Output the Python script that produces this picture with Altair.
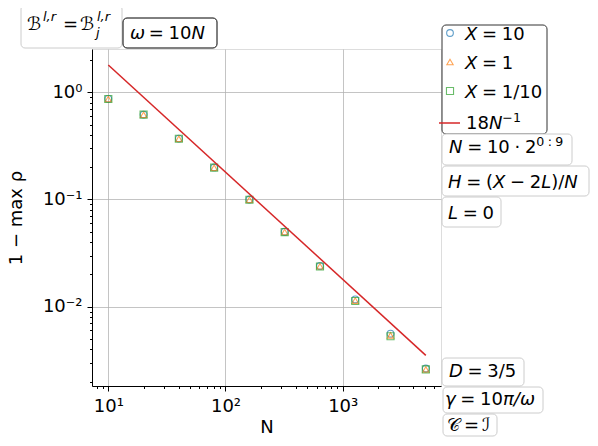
import altair as alt
import pandas as pd

# ---- data ----
N = [10, 20, 40, 80, 160, 320, 640, 1280, 2560, 5120]
rho_X10 = [0.870, 0.620, 0.370, 0.199, 0.1000, 0.0500, 0.0240, 0.0117, 0.0056, 0.00265]
rho_X1 = [0.866, 0.618, 0.369, 0.198, 0.0995, 0.0497, 0.0238, 0.0114, 0.0054, 0.00260]
rho_X01 = [0.866, 0.618, 0.369, 0.198, 0.0995, 0.0497, 0.0237, 0.0113, 0.0053, 0.00260]
ref_N = [10, 5120]
ref_y = [1.8, 0.003515625]

x_major = [10, 100, 1000]
x_minor = [8, 9, 20, 30, 40, 50, 60, 70, 80, 90,
           200, 300, 400, 500, 600, 700, 800, 900,
           2000, 3000, 4000, 5000, 6000]
y_major = [1, 0.1, 0.01]
y_minor = [0.002, 0.003, 0.004, 0.005, 0.006, 0.007, 0.008, 0.009,
           0.02, 0.03, 0.04, 0.05, 0.06, 0.07, 0.08, 0.09,
           0.2, 0.3, 0.4, 0.5, 0.6, 0.7, 0.8, 0.9, 2]
x_labels = {10: "10¹", 100: "10²", 1000: "10³"}
y_labels = {1: "10⁰", 0.1: "10⁻¹", 0.01: "10⁻²"}

X0, Y0 = 92, 49          # plot origin in page pixels
W, H = 349, 337
FONT = "DejaVu Sans"

df = pd.DataFrame({"N": N, "X10": rho_X10, "X1": rho_X1, "X01": rho_X01})
dref = pd.DataFrame({"N": ref_N, "y": ref_y})
one = pd.DataFrame({"a": [0]})

xscale = alt.Scale(type="log", domain=[7.26, 6900], nice=False)
yscale = alt.Scale(type="log", domain=[0.00182, 2.535], nice=False)

def lab_expr(d):
    s = ""
    for k, v in d.items():
        s += f"datum.value == {k} ? '{v}' : "
    return s + "''"

def major_test(vals):
    return " || ".join(f"datum.value == {v}" for v in vals)

def make_axis(major, minor, labels, title, tpad, lpad):
    return alt.Axis(
        values=major + minor,
        labelExpr=lab_expr(labels),
        labelFont=FONT, labelFontSize=18, labelColor="black",
        labelOverlap=False, labelFlush=False, labelBound=False,
        labelPadding=lpad,
        tickColor="black", tickWidth=1,
        tickSize={"condition": {"test": major_test(major), "value": 5}, "value": 2.5},
        grid=True, gridColor="#b0b0b0", gridWidth=1,
        gridOpacity={"condition": {"test": major_test(major), "value": 0.75}, "value": 0},
        domainColor="black", domainWidth=1,
        title=title, titleFont=FONT, titleFontSize=18, titleFontWeight="normal",
        titleColor="black", titlePadding=tpad,
    )

xax = make_axis(x_major, x_minor, x_labels, "N", 3, 6)
yax = make_axis(y_major, y_minor, y_labels, "1 − max ρ", 17, 5)

base = alt.Chart(df)
pts10 = base.mark_point(shape="circle", filled=False, color="#1f77b4", size=45, strokeWidth=1.1).encode(
    x=alt.X("N:Q", scale=xscale, axis=xax), y=alt.Y("X10:Q", scale=yscale, axis=yax))
pts1 = base.mark_point(shape="triangle-up", filled=False, color="#ff7f0e", size=40, strokeWidth=1.1).encode(
    x=alt.X("N:Q", scale=xscale), y=alt.Y("X1:Q", scale=yscale))
pts01 = base.mark_point(shape="square", filled=False, color="#2ca02c", size=50, strokeWidth=1.1).encode(
    x=alt.X("N:Q", scale=xscale), y=alt.Y("X01:Q", scale=yscale))
line = alt.Chart(dref).mark_line(color="#d62728", strokeWidth=1.5).encode(
    x=alt.X("N:Q", scale=xscale), y=alt.Y("y:Q", scale=yscale))

layers = [pts10, pts1, pts01, line]

# ---- annotation helpers (page pixel coords) ----
def box(x1, x2, y1, y2, stroke="#cccccc"):
    return alt.Chart(one).mark_rect(fill="white", stroke=stroke, strokeWidth=1, cornerRadius=4).encode(
        x=alt.value(x1 - X0), x2=alt.value(x2 - X0), y=alt.value(y1 - Y0), y2=alt.value(y2 - Y0))

def txt(t, x, y, size=18, italic=False):
    return alt.Chart(one).mark_text(text=t, align="left", baseline="alphabetic", font=FONT,
                                    fontSize=size, fontStyle="italic" if italic else "normal",
                                    color="black").encode(x=alt.value(x - X0), y=alt.value(y - Y0))

WID = {' ': 0.26, '=': 0.838, '/': 0.337, '(': 0.39, ')': 0.39, '−': 0.838, '·': 0.318,
       ':': 0.337, ',': 0.318, 'X': 0.685, 'N': 0.748, 'H': 0.752, 'L': 0.557, 'D': 0.770,
       'ω': 0.781, 'γ': 0.592, 'π': 0.602, 'l': 0.278, 'r': 0.411, 'j': 0.278}

def math(parts, x0, base_y, size=18):
    out = []
    x = x0
    for p in parts:
        t, it = p[0], p[1]
        sc = p[2] if len(p) > 2 else 1.0
        dy = p[3] if len(p) > 3 else 0
        lead = len(t) - len(t.lstrip(" "))
        shown = t.strip(" ")
        words = shown.split(" ")
        xx = x + lead * WID[' '] * size * sc
        for i, w in enumerate(words):
            if w:
                out.append(txt(w, xx, base_y + dy, size * sc, it))
            xx += sum(WID.get(c, 0.636) for c in w) * size * sc + WID[' '] * size * sc
        x += sum(WID.get(c, 0.636) for c in t) * size * sc
    return out

# boxes
layers += [
    box(21, 122, 5, 48),
    box(123, 217, 18, 48, stroke="black"),
    box(442, 547, 25, 134, stroke="#333333"),
    box(442, 572, 134, 165),
    box(442, 589, 166, 196),
    box(442, 501, 197, 227),
    box(442, 524, 358, 386),
    box(443, 543, 387, 413),
    box(443, 497, 414, 436),
]

# legend
layers += [
    alt.Chart(one).mark_point(shape="circle", filled=False, color="#1f77b4", size=45, strokeWidth=1.1).encode(
        x=alt.value(450 - X0), y=alt.value(33 - Y0)),
    alt.Chart(one).mark_point(shape="triangle-up", filled=False, color="#ff7f0e", size=40, strokeWidth=1.1).encode(
        x=alt.value(450 - X0), y=alt.value(62 - Y0)),
    alt.Chart(one).mark_point(shape="square", filled=False, color="#2ca02c", size=50, strokeWidth=1.1).encode(
        x=alt.value(450 - X0), y=alt.value(91 - Y0)),
    alt.Chart(one).mark_rule(color="#d62728", strokeWidth=1.5).encode(
        x=alt.value(439 - X0), x2=alt.value(460 - X0), y=alt.value(123 - Y0)),
]
layers += math([("X", True), (" = 10", False)], 465, 40)
layers += math([("X", True), (" = 1", False)], 465, 69)
layers += math([("X", True), (" = 1/10", False)], 465, 98)
layers += math([("18", False), ("N", True), ("−1", False, 0.7, -7)], 466, 129)

# right-side boxes text
layers += math([("N", True), (" = 10 · 2", False), ("0 : 9", False, 0.7, -7)], 449, 153)
layers += math([("H", True), (" = (", False), ("X", True), (" − 2", False), ("L", True), (")/", False), ("N", True)], 448, 188)
layers += math([("L", True), (" = 0", False)], 448, 219)
layers += math([("D", True), (" = 3/5", False)], 449, 377)
layers += math([("γ", True), (" = 10", False), ("π/ω", True)], 445, 405)
layers += [txt("𝒞", 447, 431), txt("=", 464, 431), txt("ℐ", 482, 431)]

# top-left boxes text
layers += [
    txt("ℬ", 27, 30), txt("l,r", 43, 21, 13, True),
    txt("=", 63, 30),
    txt("ℬ", 80, 30), txt("l,r", 97, 21, 13, True), txt("j", 96, 37, 13, True),
]
layers += math([("ω", True), (" = 10", False), ("N", True)], 130, 39)

chart = alt.layer(*layers).properties(
    width=W, height=H,
    autosize=alt.AutoSizeParams(type="none"),
    padding={"left": X0 - 8, "top": Y0 - 8, "right": 582 - (X0 - 8) - W, "bottom": 52},
).configure_view(stroke="black", strokeWidth=1).configure(background="white")

chart.save("out.html", embed_options={"renderer": "svg", "actions": False})
